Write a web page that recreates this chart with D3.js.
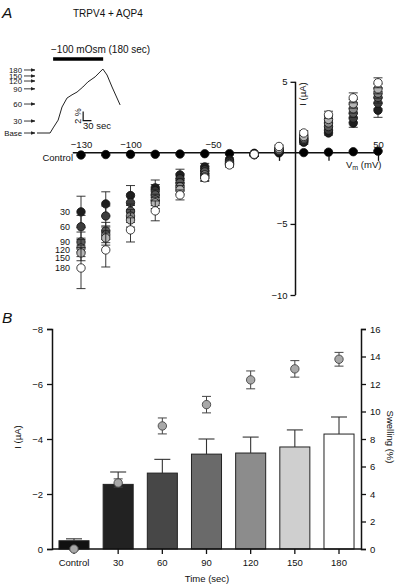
<!DOCTYPE html>
<html><head><meta charset="utf-8">
<script src="https://cdn.jsdelivr.net/npm/d3@7"></script>
<style>body{margin:0;background:#fff}svg{display:block;font-family:"Liberation Sans",Arial,Helvetica,sans-serif}</style>
</head><body><svg id="c" width="400" height="585"></svg>
<script>
// ---------- DATA ----------
// Inset trace (swelling % vs time, s)
const insetTime  = [0, 47, 58, 76, 90, 108, 126, 144, 165, 183, 209, 237, 252, 270, 299];
const insetSwell = [0, 0, 1.1, 2.8, 5.65, 7.6, 8.3, 8.9, 10.0, 11.1, 12.2, 13.9, 12.6, 10.0, 6.1];
const insetMarkLabels = ["180", "150", "120", "90", "60", "30", "Base"];
const insetMarkValues = [13.7, 12.4, 11.3, 9.6, 6.3, 2.6, 0];

// IV curves
const voltages = [-130, -115, -100, -85, -70, -55, -40, -25, -10, 5, 20, 35, 50];
const ivNames = ["Control", "30", "60", "90", "120", "150", "180"];
const ivControl = [-0.15, -0.12, -0.1, -0.1, -0.08, -0.06, -0.05, -0.03, 0, 0.02, 0.05, 0.08, 0.12];
const iv30  = [-4.15, -3.59, -3.0, -2.46, -1.55, -0.99, -0.5, -0.1, 0.05, 0.75, 1.4, 2.1, 3.0];
const iv60  = [-5.2, -4.44, -3.5, -2.68, -1.83, -1.2, -0.6, -0.1, 0.1, 0.85, 1.6, 2.45, 3.5];
const iv90  = [-6.27, -5.49, -4.1, -2.96, -2.11, -1.34, -0.7, -0.12, 0.15, 0.95, 1.85, 2.8, 3.9];
const iv120 = [-6.7, -5.77, -4.44, -3.31, -2.39, -1.55, -0.75, -0.12, 0.2, 1.05, 2.1, 3.1, 4.2];
const iv150 = [-7.04, -5.99, -4.72, -3.52, -2.6, -1.69, -0.8, -0.13, 0.3, 1.15, 2.35, 3.45, 4.5];
const iv180 = [-8.1, -6.83, -5.42, -4.08, -2.96, -1.76, -0.85, -0.1, 0.45, 1.4, 2.68, 3.87, 4.93];
const errControl = [0.05, 0.05, 0.05, 0.05, 0.05, 0.05, 0.05, 0.05, 0.05, 0.05, 0.05, 0.05, 0.05];
const err30  = [1.1, 0.85, 0.7, 0.55, 0.4, 0.25, 0.15, 0.1, 0.1, 0.15, 0.15, 0.3, 0.5];
const err60  = [0.8, 0.7, 0.6, 0.45, 0.35, 0.25, 0.15, 0.1, 0.1, 0.15, 0.2, 0.3, 0.4];
const err90  = [0.7, 0.6, 0.5, 0.4, 0.3, 0.25, 0.15, 0.1, 0.1, 0.15, 0.2, 0.3, 0.4];
const err120 = [0.6, 0.55, 0.45, 0.4, 0.3, 0.25, 0.15, 0.1, 0.1, 0.15, 0.2, 0.3, 0.35];
const err150 = [0.55, 0.5, 0.5, 0.4, 0.3, 0.25, 0.15, 0.1, 0.1, 0.15, 0.2, 0.3, 0.35];
const err180 = [1.45, 1.2, 0.85, 0.7, 0.35, 0.25, 0.15, 0.1, 0.1, 0.15, 0.25, 0.35, 0.35];
const ivXTickLabels = [-130, -100, -50, 50];
const ivYTicks = [5, -5, -10];

// Panel B
const timeCats = ["Control", "30", "60", "90", "120", "150", "180"];
const currentMean = [-0.3, -2.35, -2.76, -3.45, -3.49, -3.71, -4.18];
const currentErr  = [0.07, 0.45, 0.5, 0.55, 0.58, 0.62, 0.62];
const swellMean = [0, 4.8, 8.95, 10.5, 12.3, 13.1, 13.8];
const swellErr  = [0.1, 0.3, 0.58, 0.6, 0.65, 0.6, 0.5];
const currentTicks = [0, -2, -4, -6, -8];
const swellTicks = [0, 2, 4, 6, 8, 10, 12, 14, 16];

// ---------- STYLE ----------
const ivFill = ["#000", "#1e1e1e", "#3c3c3c", "#595959", "#8a8a8a", "#b4b4b4", "#fff"];
const barFill = ["#111", "#222", "#474747", "#6a6a6a", "#8c8c8c", "#cfcfcf", "#fff"];

const svg = d3.select("#c");
const txt = (x, y, s, fs, anchor) => svg.append("text").attr("x", x).attr("y", y)
  .attr("font-size", fs).attr("text-anchor", anchor || "start").attr("fill", "#111").text(s);
const styleAxis = g => {
  g.attr("font-family", null).attr("font-size", null);
  g.selectAll("text").attr("font-size", 9.5).attr("fill", "#111");
};

// ---------- PANEL A ----------
txt(2, 18, "A", 15.5).attr("font-style", "italic");
txt(73, 17, "TRPV4 + AQP4", 10);

// Inset
const ix = d3.scaleLinear().domain([0, 300]).range([37, 120.4]);
const iy = d3.scaleLinear().domain([0, 14]).range([133, 68.6]);
svg.append("path").datum(insetTime.map((t, i) => [t, insetSwell[i]]))
  .attr("d", d3.line().x(d => ix(d[0])).y(d => iy(d[1])))
  .attr("fill", "none").attr("stroke", "#222").attr("stroke-width", 1);
svg.append("line").attr("x1", ix(58)).attr("x2", ix(238)).attr("y1", 59).attr("y2", 59)
  .attr("stroke", "#000").attr("stroke-width", 3.5);
txt(51, 53, "\u2212100 mOsm (180 sec)", 10);

svg.append("defs").append("marker").attr("id", "arr").attr("viewBox", "0 0 10 10")
  .attr("refX", 9).attr("refY", 5).attr("markerWidth", 5).attr("markerHeight", 5)
  .attr("orient", "auto").append("path").attr("d", "M0,1 L10,5 L0,9 Z").attr("fill", "#222");
insetMarkLabels.forEach((l, i) => {
  const y = iy(insetMarkValues[i]);
  txt(22, y + 2.8, l, 7.8, "end");
  svg.append("line").attr("x1", 24).attr("x2", 35).attr("y1", y).attr("y2", y)
    .attr("stroke", "#222").attr("stroke-width", 0.9).attr("marker-end", "url(#arr)");
});
// scale bar
svg.append("path").attr("d", `M${ix(166)},${iy(4.7)} V${iy(2.7)} H${ix(196)}`)
  .attr("fill", "none").attr("stroke", "#111").attr("stroke-width", 1.2);
svg.append("text").attr("transform", `translate(81,${(iy(4.7) + iy(2.7)) / 2}) rotate(-90)`)
  .attr("text-anchor", "middle").attr("font-size", 9).attr("fill", "#111").text("2 %");
txt(83, 129, "30 sec", 9.5);

// IV plot
const xs = d3.scaleLinear().domain([-130, 50]).range([81, 378]);
const ys = d3.scaleLinear().domain([-10, 5]).range([295, 81.8]);
const y0 = ys(0), x0 = xs(0);

// x axis
svg.append("line").attr("x1", xs(-135)).attr("x2", xs(50)).attr("y1", y0).attr("y2", y0)
  .attr("stroke", "#111").attr("stroke-width", 1.5);
const gxt = svg.append("g").attr("transform", `translate(0,${y0})`)
  .call(d3.axisBottom(xs).tickValues([-10, 20, 50]).tickSize(8).tickFormat(""));
gxt.select(".domain").remove();
gxt.selectAll("line").attr("stroke", "#111").attr("stroke-width", 1.3);
const gxl = svg.append("g").attr("transform", `translate(0,${y0})`)
  .call(d3.axisTop(xs).tickValues(ivXTickLabels).tickSize(0).tickPadding(5));
gxl.select(".domain").remove();
styleAxis(gxl);

// y axis
svg.append("line").attr("x1", x0).attr("x2", x0).attr("y1", ys(5)).attr("y2", ys(-10))
  .attr("stroke", "#111").attr("stroke-width", 1.5);
const gy = svg.append("g").attr("transform", `translate(${x0},0)`)
  .call(d3.axisLeft(ys).tickValues(ivYTicks).tickSize(5).tickPadding(3));
gy.select(".domain").remove();
gy.selectAll("line").attr("stroke", "#111").attr("stroke-width", 1.3);
styleAxis(gy);

svg.append("text").attr("transform", `translate(306,94) rotate(-90)`).attr("text-anchor", "middle")
  .attr("font-size", 9.5).attr("fill", "#111").text("I (\u00b5A)");
const vm = svg.append("text").attr("x", 346).attr("y", 168).attr("font-size", 9.5).attr("fill", "#111");
vm.append("tspan").text("V");
vm.append("tspan").attr("font-size", 7).attr("dy", 2).text("m");
vm.append("tspan").attr("dy", -2).text(" (mV)");
txt(73, 161, "Control", 9.5, "end");

const ivVals = [ivControl, iv30, iv60, iv90, iv120, iv150, iv180];
const ivErrs = [errControl, err30, err60, err90, err120, err150, err180];
ivVals.forEach((vals, s) => {
  const g = svg.append("g");
  const errs = ivErrs[s];
  voltages.forEach((v, i) => {
    const x = xs(v), yt = ys(vals[i] + errs[i]), yb = ys(vals[i] - errs[i]);
    g.append("line").attr("x1", x).attr("x2", x).attr("y1", yt).attr("y2", yb).attr("stroke", "#222").attr("stroke-width", 0.9);
    [yt, yb].forEach(yy => g.append("line").attr("x1", x - 4.5).attr("x2", x + 4.5).attr("y1", yy).attr("y2", yy)
      .attr("stroke", "#222").attr("stroke-width", 0.9));
  });
  g.selectAll("circle").data(voltages).join("circle")
    .attr("cx", d => xs(d)).attr("cy", (d, i) => ys(vals[i])).attr("r", 4.2)
    .attr("fill", ivFill[s]).attr("stroke", "#111").attr("stroke-width", 0.8);
});
// series labels next to -130 cluster
let prevY = -Infinity;
ivNames.slice(1).forEach((n, k) => {
  let y = Math.max(ys(ivVals[k + 1][0]), prevY + 8);
  prevY = y;
  txt(70, y + 3.3, n, 9, "end");
});

// ---------- PANEL B ----------
txt(2, 323, "B", 15.5).attr("font-style", "italic");
const bx = d3.scaleBand().domain(timeCats).range([52, 361]).paddingInner(0.32).paddingOuter(0.158);
const byL = d3.scaleLinear().domain([0, -8]).range([549, 329]);
const byR = d3.scaleLinear().domain([0, 16]).range([549, 329]);

// bars
timeCats.forEach((c, i) => {
  const x = bx(c), w = bx.bandwidth(), cx = x + w / 2;
  const top = byL(currentMean[i]);
  svg.append("rect").attr("x", x).attr("y", top).attr("width", w).attr("height", byL(0) - top)
    .attr("fill", barFill[i]).attr("stroke", "#222").attr("stroke-width", 1);
  const ye = byL(currentMean[i] - currentErr[i]);
  svg.append("line").attr("x1", cx).attr("x2", cx).attr("y1", top).attr("y2", ye).attr("stroke", "#333").attr("stroke-width", 1.1);
  svg.append("line").attr("x1", cx - 8).attr("x2", cx + 8).attr("y1", ye).attr("y2", ye).attr("stroke", "#333").attr("stroke-width", 1.1);
});

// axes
const gL = svg.append("g").attr("transform", "translate(52,0)")
  .call(d3.axisLeft(byL).tickValues(currentTicks).tickSize(5).tickPadding(4));
const gR = svg.append("g").attr("transform", "translate(361,0)")
  .call(d3.axisRight(byR).tickValues(swellTicks).tickSize(5).tickPadding(4));
const gB = svg.append("g").attr("transform", "translate(0,549)")
  .call(d3.axisBottom(bx).tickSize(5).tickPadding(5));
[gL, gR, gB].forEach(g => {
  g.select(".domain").attr("stroke", "#111").attr("stroke-width", 1.5);
  g.selectAll(".tick line").attr("stroke", "#111").attr("stroke-width", 1.3);
  styleAxis(g);
});
gB.select(".domain").attr("d", "M52,0H361");

// swelling points
timeCats.forEach((c, i) => {
  const cx = bx(c) + bx.bandwidth() / 2;
  const yt = byR(swellMean[i] + swellErr[i]), yb = byR(swellMean[i] - swellErr[i]);
  svg.append("line").attr("x1", cx).attr("x2", cx).attr("y1", yt).attr("y2", yb).attr("stroke", "#444").attr("stroke-width", 1);
  [yt, yb].forEach(yy => svg.append("line").attr("x1", cx - 4.5).attr("x2", cx + 4.5).attr("y1", yy).attr("y2", yy)
    .attr("stroke", "#444").attr("stroke-width", 1));
  svg.append("circle").attr("cx", cx).attr("cy", byR(swellMean[i])).attr("r", 4.2)
    .attr("fill", "#a8a8a8").attr("stroke", "#444").attr("stroke-width", 0.9);
});

svg.append("text").attr("transform", "translate(21,437) rotate(-90)").attr("text-anchor", "middle")
  .attr("font-size", 9.5).attr("fill", "#111").text("I (\u00b5A)");
svg.append("text").attr("transform", "translate(387,437) rotate(90)").attr("text-anchor", "middle")
  .attr("font-size", 9.5).attr("fill", "#111").text("Swelling (%)");
txt(207, 582, "Time (sec)", 9.5, "middle");
</script></body></html>
